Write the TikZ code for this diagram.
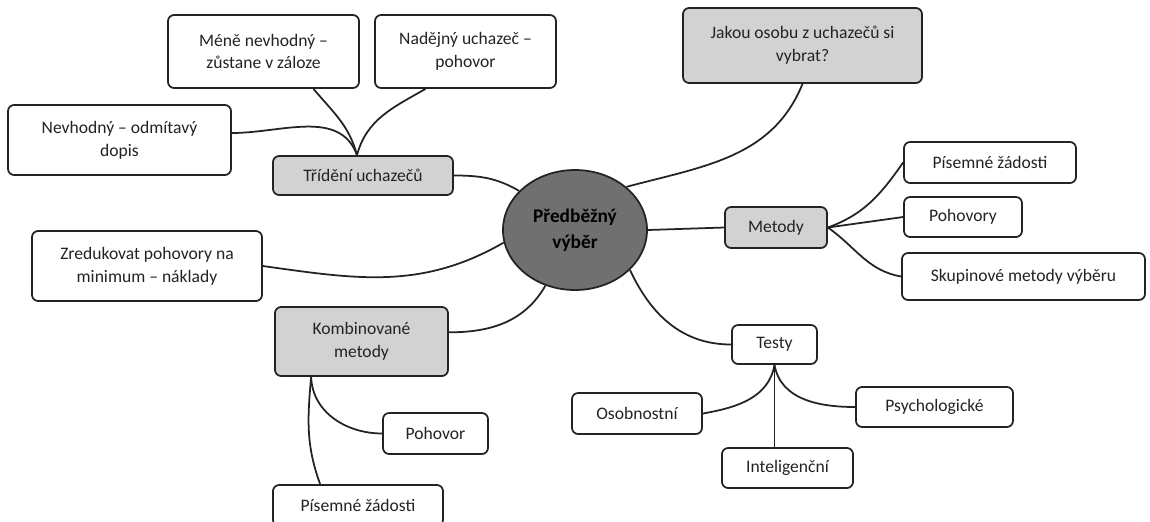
\documentclass[tikz,border=0pt]{standalone}
\usepackage{fontspec}
\setmainfont{Carlito}
\usetikzlibrary{shapes.geometric}
\definecolor{InkGray}{RGB}{35,35,35}
\definecolor{HubGray}{RGB}{112,112,112}
\definecolor{BranchGray}{RGB}{210,210,210}
\tikzset{
	hub/.style={ellipse,draw=InkGray,fill=HubGray,line width=1pt,inner sep=0pt,
		minimum width=28.8mm,minimum height=24mm,align=center,
		font=\fontsize{11}{15}\selectfont\bfseries},
	box/.style={draw=InkGray,text=InkGray,rounded corners=3.5pt,line width=1pt,
		inner sep=0pt,align=center,font=\fontsize{10}{13}\selectfont},
	leaf/.style={box,fill=white},
	branch/.style={box,fill=BranchGray},
	link/.style={draw=InkGray,line width=1pt},
}

\begin{document}
\begin{tikzpicture}[x=0.2mm,y=0.2mm]
	\clip (0,0) rectangle (1150,-521);
	\fill[white] (0,0) rectangle (1150,-521);
	\node[hub] (hub) at (575,-230) {Předběžný\\výběr};
	\node[branch,minimum width=47.8mm,minimum height=15mm] (osoba) at (802.5,-45.5) {Jakou osobu z uchazečů si\\vybrat?};
	\node[branch,minimum width=36mm,minimum height=7.8mm] (trideni) at (363,-175.5) {Třídění uchazečů};
	\node[leaf,minimum width=38.2mm,minimum height=14.6mm] (mene) at (263.5,-51.5) {Méně nevhodný –\\zůstane v záloze};
	\node[leaf,minimum width=36.2mm,minimum height=14.6mm] (nadejny) at (465.5,-51.5) {Nadějný uchazeč –\\pohovor};
	\node[leaf,minimum width=44.6mm,minimum height=14mm] (nevhodny) at (119.5,-140) {Nevhodný – odmítavý\\dopis};
	\node[leaf,minimum width=46mm,minimum height=14mm] (zredukovat) at (147,-266) {Zredukovat pohovory na\\minimum – náklady};
	\node[branch,minimum width=34.6mm,minimum height=13.8mm] (kombinovane) at (361.5,-341.5) {Kombinované\\metody};
	\node[leaf,minimum width=21mm,minimum height=8.2mm] (pohovor) at (435.5,-433.5) {Pohovor};
	\node[leaf,minimum width=34mm,minimum height=8.2mm] (zadosti2) at (358,-505.5) {Písemné žádosti};
	\node[branch,minimum width=20.4mm,minimum height=8.2mm] (metody) at (776,-227.5) {Metody};
	\node[leaf,minimum width=34.4mm,minimum height=8.2mm] (zadosti1) at (990,-162.5) {Písemné žádosti};
	\node[leaf,minimum width=23.6mm,minimum height=8mm] (pohovory) at (963,-217) {Pohovory};
	\node[leaf,minimum width=48.6mm,minimum height=9.4mm] (skupinove) at (1023.5,-276.5) {Skupinové metody výběru};
	\node[leaf,minimum width=17mm,minimum height=7.8mm] (testy) at (774.5,-344.5) {Testy};
	\node[leaf,minimum width=26mm,minimum height=8.2mm] (osobnostni) at (637,-413.5) {Osobnostní};
	\node[leaf,minimum width=31.4mm,minimum height=8mm] (psycho) at (934.5,-407) {Psychologické};
	\node[leaf,minimum width=26.2mm,minimum height=8mm] (inteligencni) at (787.5,-468) {Inteligenční};
	\coordinate (tfan) at ([xshift=-1.2mm]trideni.north);
	\coordinate (kfan) at ([xshift=7.4mm]kombinovane.south west);
	\draw[link] (trideni.east) to[out=0,in=150] (hub.145);
	\draw[link] (osoba.south) to[out=-112,in=15] (hub.40);
	\draw[link] (hub.east) -- (metody.west);
	\draw[link] (hub.-36) to[out=-65,in=180] (testy.west);
	\draw[link] (hub.-118) to[out=-120,in=0] (kombinovane.6);
	\draw[link] (hub.-170) to[out=-150,in=-8] (zredukovat.east);
	\draw[link] (tfan) to[out=105,in=-50] ([xshift=10mm]mene.south);
	\draw[link] (tfan) to[out=75,in=-150] ([xshift=-8mm]nadejny.south);
	\draw[link] (tfan) to[out=110,in=0] ([yshift=1.4mm]nevhodny.east);
	\draw[link] (metody.east) to[out=20,in=235] (zadosti1.west);
	\draw[link] (metody.east) -- (pohovory.west);
	\draw[link] (metody.east) to[out=-35,in=170] (skupinove.west);
	\draw[link] (testy.south) to[out=-100,in=10] (osobnostni.east);
	\draw[link] (testy.south) to[out=-80,in=180] (psycho.west);
	\draw[link] (testy.south) -- (testy.south |- inteligencni.north);
	\draw[link] (kfan) to[out=-88,in=180] (pohovor.west);
	\draw[link] (kfan) to[out=-95,in=110] ([xshift=9.6mm]zadosti2.north west);
\end{tikzpicture}
\end{document}
